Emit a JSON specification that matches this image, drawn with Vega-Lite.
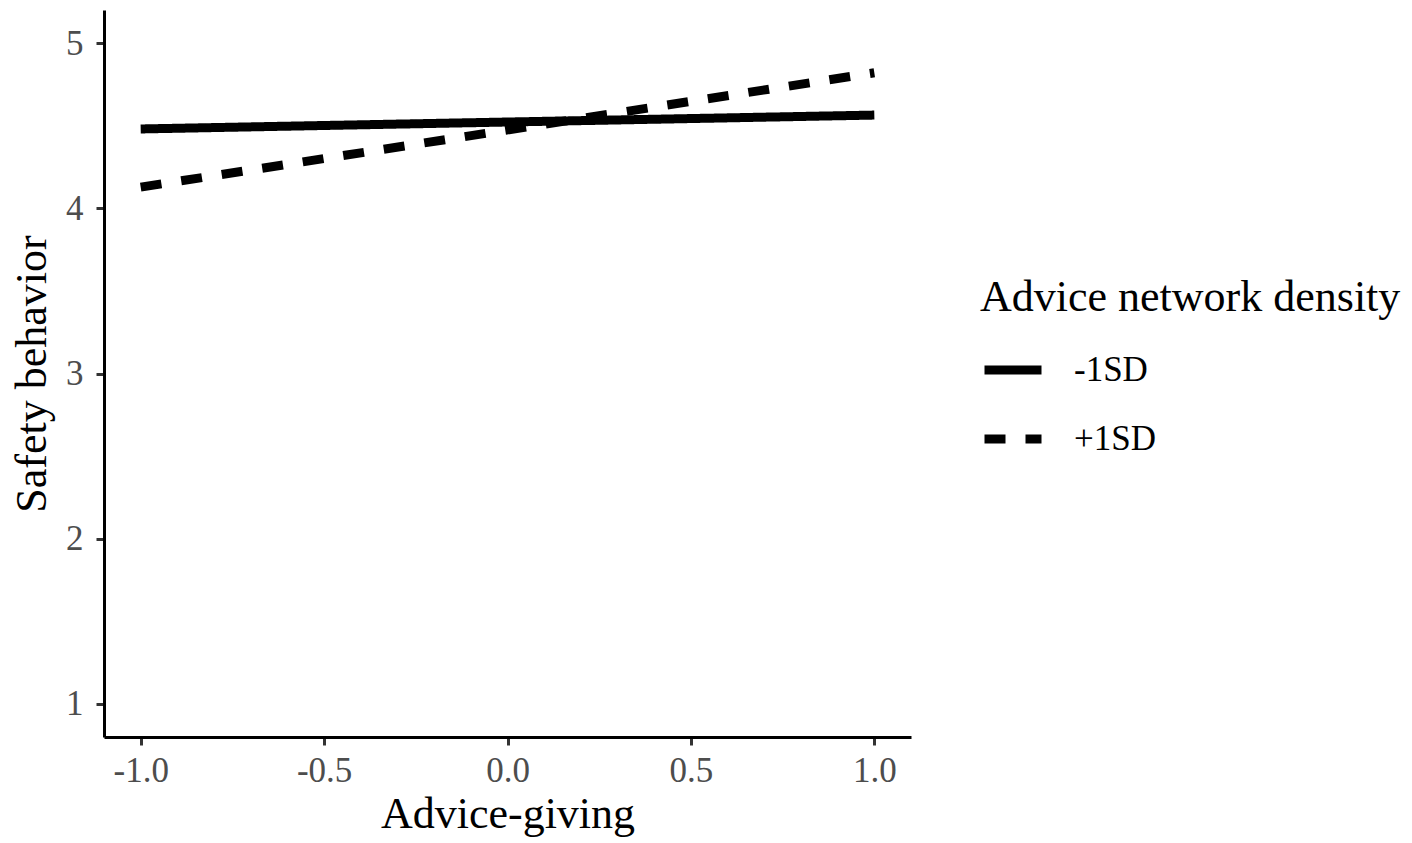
{
  "$schema": "https://vega.github.io/schema/vega-lite/v6.json",
  "autosize": "none",
  "width": 807,
  "height": 727,
  "padding": {"left": 104, "top": 10, "right": 501, "bottom": 106},
  "background": "white",
  "config": {
    "view": {"stroke": null},
    "font": "Liberation Serif",
    "axis": {
      "labelFont": "Liberation Serif",
      "titleFont": "Liberation Serif",
      "grid": false,
      "domainColor": "black",
      "domainWidth": 3,
      "tickColor": "#333333",
      "tickWidth": 3,
      "tickSize": 8,
      "labelFontSize": 35,
      "labelColor": "#4d4d4d",
      "titleFontSize": 44,
      "titleFontWeight": "normal",
      "titleColor": "black"
    },
    "legend": {
      "labelFont": "Liberation Serif",
      "titleFont": "Liberation Serif"
    }
  },
  "data": {
    "values": [
      {"advice": -1, "safety": 4.48, "density": "-1SD"},
      {"advice": 1, "safety": 4.564, "density": "-1SD"},
      {"advice": -1, "safety": 4.128, "density": "+1SD"},
      {"advice": 1, "safety": 4.82, "density": "+1SD"}
    ]
  },
  "mark": {"type": "line", "color": "black", "strokeWidth": 9, "strokeCap": "butt"},
  "encoding": {
    "x": {
      "field": "advice",
      "type": "quantitative",
      "scale": {"domain": [-1.1, 1.1], "nice": false, "zero": false},
      "axis": {
        "title": "Advice-giving",
        "values": [-1, -0.5, 0, 0.5, 1],
        "format": ".1f",
        "labelExpr": "replace(datum.label, '−', '-')",
        "labelPadding": 8,
        "titlePadding": 4,
        "labelFlush": false
      }
    },
    "y": {
      "field": "safety",
      "type": "quantitative",
      "scale": {"domain": [0.8, 5.2], "nice": false, "zero": false},
      "axis": {
        "title": "Safety behavior",
        "values": [1, 2, 3, 4, 5],
        "format": "d",
        "labelPadding": 13,
        "titlePadding": 11,
        "labelFlush": false
      }
    },
    "strokeDash": {
      "field": "density",
      "type": "nominal",
      "sort": ["-1SD", "+1SD"],
      "scale": {"domain": ["-1SD", "+1SD"], "range": [[1, 0], [21, 20]]},
      "legend": {
        "title": "Advice network density",
        "orient": "none",
        "legendX": 876,
        "legendY": 266,
        "padding": 0,
        "titleFontSize": 44,
        "titleFontWeight": "normal",
        "titleColor": "black",
        "titleLimit": 1000,
        "titlePadding": 17,
        "labelFontSize": 35,
        "labelColor": "black",
        "labelOffset": 28,
        "labelLimit": 500,
        "symbolType": "stroke",
        "symbolSize": 3249,
        "symbolStrokeWidth": 9,
        "symbolStrokeColor": "black",
        "rowPadding": 18
      }
    }
  }
}
